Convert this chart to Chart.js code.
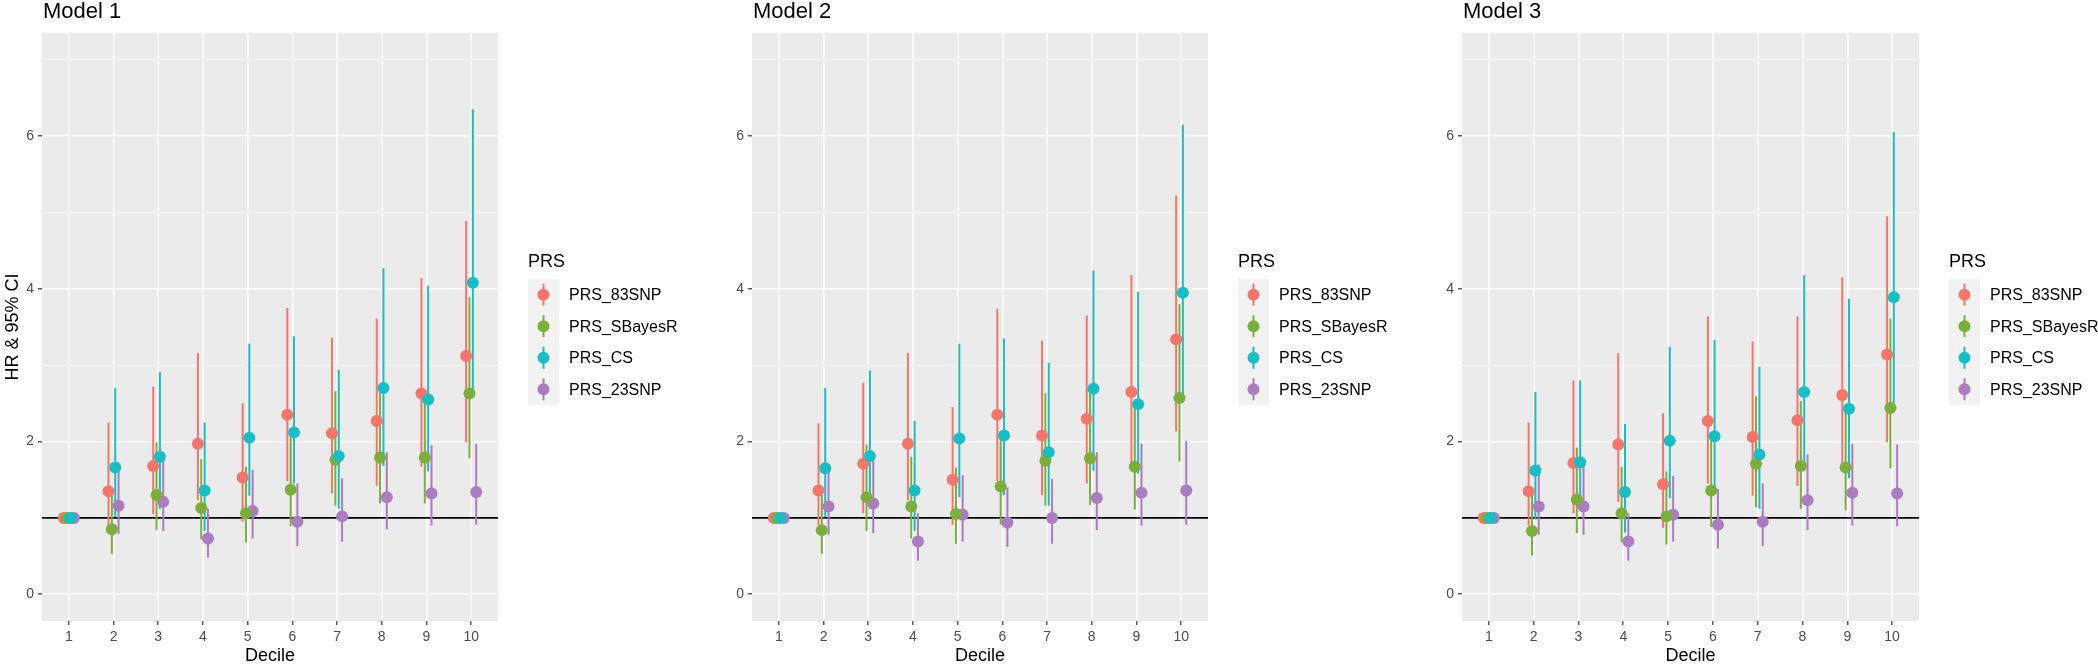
<!DOCTYPE html>
<html>
<head>
<meta charset="utf-8">
<script src="https://cdn.jsdelivr.net/npm/chart.js@4.4.1/dist/chart.umd.min.js"></script>
<style>
  html, body { margin: 0; padding: 0; background: #fff; }
  #wrap { position: relative; width: 2098px; height: 665px; }
  canvas { position: absolute; top: 0; }
</style>
</head>
<body>
<div id="wrap">
  <canvas id="m1" width="700" height="665" style="left:0px;width:700px;height:665px"></canvas>
  <canvas id="m2" width="700" height="665" style="left:700px;width:700px;height:665px"></canvas>
  <canvas id="m3" width="698" height="665" style="left:1400px;width:698px;height:665px"></canvas>
</div>
<script>
const deciles = [1, 2, 3, 4, 5, 6, 7, 8, 9, 10]
const series = [`PRS_83SNP`, `PRS_SBayesR`, `PRS_CS`, `PRS_23SNP`]
const colours = [`#F3766D`, `#7CAE3C`, `#19BEC4`, `#A97DBF`]
const yTicks = [0, 2, 4, 6]
const refLine = 1

// Model 1
const m1_83snp_hr = [1, 1.35, 1.68, 1.97, 1.53, 2.35, 2.11, 2.27, 2.63, 3.12]
const m1_83snp_lo = [1, 0.88, 1.05, 1.23, 0.95, 1.48, 1.32, 1.42, 1.67, 1.99]
const m1_83snp_hi = [1, 2.25, 2.72, 3.16, 2.50, 3.75, 3.36, 3.61, 4.14, 4.89]
const m1_sbr_hr = [1, 0.85, 1.30, 1.13, 1.06, 1.37, 1.76, 1.79, 1.79, 2.63]
const m1_sbr_lo = [1, 0.53, 0.84, 0.72, 0.68, 0.89, 1.16, 1.19, 1.19, 1.78]
const m1_sbr_hi = [1, 1.32, 1.99, 1.77, 1.67, 2.06, 2.66, 2.67, 2.56, 3.89]
const m1_cs_hr = [1, 1.66, 1.80, 1.36, 2.05, 2.12, 1.81, 2.70, 2.55, 4.08]
const m1_cs_lo = [1, 1.01, 1.12, 0.83, 1.29, 1.45, 1.12, 1.68, 1.61, 2.62]
const m1_cs_hi = [1, 2.70, 2.91, 2.25, 3.28, 3.38, 2.94, 4.27, 4.04, 6.35]
const m1_23snp_hr = [1, 1.16, 1.21, 0.73, 1.09, 0.95, 1.02, 1.27, 1.32, 1.34]
const m1_23snp_lo = [1, 0.79, 0.83, 0.48, 0.73, 0.63, 0.69, 0.85, 0.90, 0.91]
const m1_23snp_hi = [1, 1.62, 1.81, 1.12, 1.63, 1.45, 1.52, 1.86, 1.95, 1.97]

// Model 2
const m2_83snp_hr = [1, 1.36, 1.71, 1.97, 1.50, 2.35, 2.08, 2.30, 2.65, 3.34]
const m2_83snp_lo = [1, 0.90, 1.06, 1.23, 0.91, 1.48, 1.30, 1.45, 1.70, 2.13]
const m2_83snp_hi = [1, 2.24, 2.77, 3.16, 2.45, 3.74, 3.32, 3.65, 4.18, 5.22]
const m2_sbr_hr = [1, 0.84, 1.27, 1.15, 1.05, 1.41, 1.75, 1.78, 1.67, 2.57]
const m2_sbr_lo = [1, 0.53, 0.83, 0.73, 0.66, 0.91, 1.16, 1.17, 1.11, 1.74]
const m2_sbr_hi = [1, 1.30, 1.96, 1.80, 1.66, 2.11, 2.63, 2.64, 2.45, 3.80]
const m2_cs_hr = [1, 1.65, 1.81, 1.36, 2.04, 2.08, 1.86, 2.69, 2.49, 3.95]
const m2_cs_lo = [1, 1.01, 1.12, 0.83, 1.27, 1.30, 1.16, 1.62, 1.58, 2.56]
const m2_cs_hi = [1, 2.70, 2.93, 2.27, 3.28, 3.35, 3.03, 4.24, 3.96, 6.15]
const m2_23snp_hr = [1, 1.15, 1.19, 0.69, 1.04, 0.94, 1.00, 1.26, 1.33, 1.36]
const m2_23snp_lo = [1, 0.78, 0.80, 0.44, 0.69, 0.62, 0.66, 0.84, 0.90, 0.91]
const m2_23snp_hi = [1, 1.61, 1.78, 1.06, 1.56, 1.40, 1.51, 1.86, 1.97, 2.01]

// Model 3
const m3_83snp_hr = [1, 1.35, 1.72, 1.96, 1.44, 2.27, 2.06, 2.28, 2.61, 3.14]
const m3_83snp_lo = [1, 0.90, 1.06, 1.21, 0.87, 1.45, 1.29, 1.42, 1.70, 1.99]
const m3_83snp_hi = [1, 2.25, 2.80, 3.16, 2.37, 3.64, 3.31, 3.64, 4.15, 4.95]
const m3_sbr_hr = [1, 0.83, 1.24, 1.06, 1.02, 1.36, 1.71, 1.68, 1.66, 2.44]
const m3_sbr_lo = [1, 0.51, 0.80, 0.68, 0.65, 0.88, 1.14, 1.12, 1.10, 1.65]
const m3_sbr_hi = [1, 1.29, 1.92, 1.67, 1.61, 2.03, 2.59, 2.53, 2.45, 3.61]
const m3_cs_hr = [1, 1.62, 1.73, 1.34, 2.01, 2.07, 1.83, 2.65, 2.43, 3.89]
const m3_cs_lo = [1, 0.98, 1.09, 0.81, 1.26, 1.32, 1.12, 1.62, 1.52, 2.50]
const m3_cs_hi = [1, 2.65, 2.80, 2.23, 3.24, 3.33, 2.98, 4.18, 3.87, 6.05]
const m3_23snp_hr = [1, 1.15, 1.15, 0.69, 1.04, 0.91, 0.95, 1.23, 1.33, 1.32]
const m3_23snp_lo = [1, 0.78, 0.78, 0.44, 0.69, 0.60, 0.63, 0.84, 0.90, 0.89]
const m3_23snp_hi = [1, 1.70, 1.73, 1.06, 1.55, 1.38, 1.45, 1.83, 1.97, 1.96]

Chart.defaults.font.family = `"Liberation Sans", Arial, Helvetica, sans-serif`
Chart.defaults.animation = false

const FONT = `"Liberation Sans", Arial, Helvetica, sans-serif`
const dodgeWidth = 0.3
// which series ends up on top when points overlap (lower = on top)
const pointOrder = [3, 2, 1, 4]

// grey panel behind the grid, like theme_gray
const panelBg = {
  id: `panelBg`,
  beforeDraw(chart) {
    const { ctx, chartArea: a } = chart
    ctx.save()
    ctx.fillStyle = `#EBEBEB`
    ctx.fillRect(a.left, a.top, a.width, a.height)
    ctx.restore()
  },
}

// geom_hline(yintercept = 1)
const refLinePlugin = {
  id: `refLine`,
  beforeDatasetsDraw(chart) {
    const { ctx, chartArea: a, scales } = chart
    const y = scales.y.getPixelForValue(refLine)
    ctx.save()
    ctx.strokeStyle = `#000`
    ctx.lineWidth = 1.6
    ctx.beginPath()
    ctx.moveTo(a.left, y)
    ctx.lineTo(a.right, y)
    ctx.stroke()
    ctx.restore()
  },
}

// panel title + ggplot style legend on the right
const ggExtras = {
  id: `ggExtras`,
  afterDraw(chart, args, opts) {
    const { ctx, chartArea: a } = chart
    ctx.save()
    ctx.fillStyle = `#000`
    ctx.textAlign = `left`
    ctx.textBaseline = `alphabetic`
    ctx.font = `22px ${FONT}`
    ctx.fillText(opts.title, a.left + 1, 18)

    const mid = (a.top + a.bottom) / 2
    const lx = a.right + 30
    const keyH = 31.5
    const keyW = 31
    const top = mid - 48
    ctx.font = `18px ${FONT}`
    ctx.fillText(`PRS`, lx, top - 12)

    ctx.fillStyle = `#F2F2F2`
    ctx.fillRect(lx, top, keyW, keyH * series.length)
    series.forEach((name, i) => {
      const cy = top + keyH * i + keyH / 2
      const cx = lx + keyW / 2
      ctx.strokeStyle = colours[i]
      ctx.lineWidth = 2
      ctx.beginPath()
      ctx.moveTo(cx, cy - 11)
      ctx.lineTo(cx, cy + 11)
      ctx.stroke()
      ctx.fillStyle = colours[i]
      ctx.beginPath()
      ctx.arc(cx, cy, 6, 0, Math.PI * 2)
      ctx.fill()
      ctx.fillStyle = `#000`
      ctx.font = `16px ${FONT}`
      ctx.textBaseline = `middle`
      ctx.fillText(name, lx + 41, cy + 1)
    })
    ctx.restore()
  },
}

function makePanel(id, title, hr, lo, hi, pad, showYTitle) {
  const datasets = []
  // error bars: thin floating bars, dodged by the grouped bar layout
  series.forEach((name, i) => {
    datasets.push({
      type: `bar`,
      label: name,
      data: deciles.map((d, k) => ({ x: d, y: [lo[i][k], hi[i][k]] })),
      backgroundColor: colours[i],
      borderWidth: 0,
      grouped: true,
      categoryPercentage: dodgeWidth,
      barPercentage: 1,
      maxBarThickness: 2,
      order: 10,
    })
  })
  // point estimates, same dodge
  series.forEach((name, i) => {
    const off = (i - (series.length - 1) / 2) * dodgeWidth / series.length
    datasets.push({
      type: `scatter`,
      label: name,
      data: deciles.map((d, k) => ({ x: d + off, y: hr[i][k] })),
      backgroundColor: colours[i],
      borderWidth: 0,
      pointRadius: 6,
      pointHoverRadius: 6,
      order: pointOrder[i],
    })
  })

  return new Chart(document.getElementById(id), {
    type: `bar`,
    data: { datasets },
    plugins: [panelBg, refLinePlugin, ggExtras],
    options: {
      responsive: false,
      layout: { padding: { left: pad.left, right: pad.right, top: 33, bottom: 0 } },
      plugins: {
        legend: { display: false },
        tooltip: { enabled: false },
        ggExtras: { title },
      },
      scales: {
        x: {
          type: `linear`,
          min: 0.4,
          max: 10.6,
          offset: false,
          border: { display: false },
          grid: {
            offset: false,
            color: `#FFFFFF`,
            lineWidth: 1.6,
            tickColor: `#333333`,
            tickWidth: 1.2,
            tickLength: 4,
          },
          ticks: {
            stepSize: 1,
            includeBounds: false,
            autoSkip: false,
            maxRotation: 0,
            color: `#4D4D4D`,
            padding: 4,
            font: { size: 14 },
          },
          title: {
            display: true,
            text: `Decile`,
            color: `#000`,
            font: { size: 18, lineHeight: 1 },
            padding: { top: 0, bottom: 0 },
          },
          afterFit(scale) {
            scale.height = 44
          },
        },
        y: {
          type: `linear`,
          min: -0.35,
          max: 7.35,
          border: { display: false },
          grid: {
            color: `#FFFFFF`,
            lineWidth: (c) => (yTicks.includes(c.tick.value) ? 1.6 : 0.8),
            tickColor: (c) => (yTicks.includes(c.tick.value) ? `#333333` : `rgba(0,0,0,0)`),
            tickWidth: 1.2,
            tickLength: 4,
          },
          ticks: {
            stepSize: 1,
            includeBounds: false,
            color: `#4D4D4D`,
            padding: 4,
            font: { size: 14 },
            callback: (v) => (yTicks.includes(v) ? String(v) : ``),
          },
          title: {
            display: showYTitle,
            text: `HR & 95% CI`,
            color: `#000`,
            font: { size: 18, lineHeight: 1 },
            padding: { top: 4, bottom: 0 },
          },
          afterFit(scale) {
            scale.width = 42
          },
        },
      },
    },
  })
}

makePanel(
  `m1`, `Model 1`,
  [m1_83snp_hr, m1_sbr_hr, m1_cs_hr, m1_23snp_hr],
  [m1_83snp_lo, m1_sbr_lo, m1_cs_lo, m1_23snp_lo],
  [m1_83snp_hi, m1_sbr_hi, m1_cs_hi, m1_23snp_hi],
  { left: 0, right: 202 }, true
)
makePanel(
  `m2`, `Model 2`,
  [m2_83snp_hr, m2_sbr_hr, m2_cs_hr, m2_23snp_hr],
  [m2_83snp_lo, m2_sbr_lo, m2_cs_lo, m2_23snp_lo],
  [m2_83snp_hi, m2_sbr_hi, m2_cs_hi, m2_23snp_hi],
  { left: 10, right: 192 }, false
)
makePanel(
  `m3`, `Model 3`,
  [m3_83snp_hr, m3_sbr_hr, m3_cs_hr, m3_23snp_hr],
  [m3_83snp_lo, m3_sbr_lo, m3_cs_lo, m3_23snp_lo],
  [m3_83snp_hi, m3_sbr_hi, m3_cs_hi, m3_23snp_hi],
  { left: 20, right: 179 }, false
)
</script>
</body>
</html>
